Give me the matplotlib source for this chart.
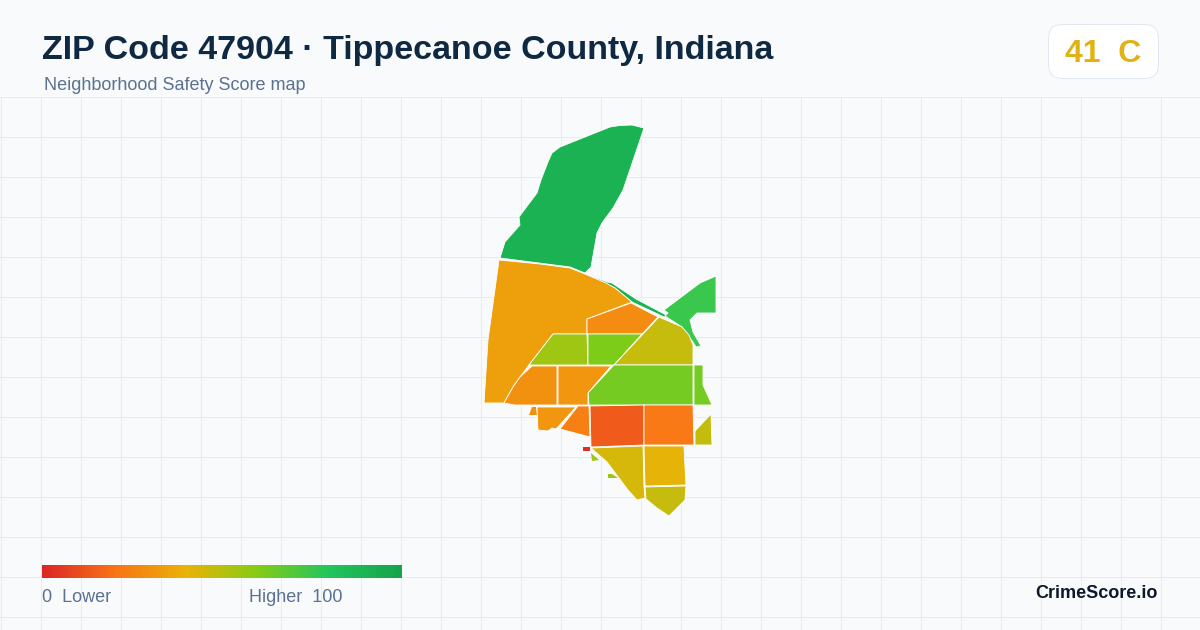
import numpy as np
import matplotlib
matplotlib.use("Agg")
import matplotlib.pyplot as plt
from matplotlib.colors import LinearSegmentedColormap
from matplotlib.patches import FancyBboxPatch, Polygon

plt.rcParams['font.family'] = ['Liberation Sans', 'DejaVu Sans']

title = "ZIP Code 47904 · Tippecanoe County, Indiana"
subtitle = "Neighborhood Safety Score map"
score_label = "41  C"
legend_low = "0  Lower"
legend_high = "Higher  100"
brand = "CrimeScore.io"

# colour scale of the score
scale_stops = [0, 20, 40, 60, 80, 100]
scale_colors = ['#dc2626', '#f97316', '#eab308', '#84cc16', '#22c55e', '#16a34a']

# tract outlines in its own pixel coords
north = [(500, 258), (505, 242), (520, 225), (519, 217), (537, 193), (541, 180), (548, 162), (552, 153), (556, 150),
         (560, 147), (610, 127), (620, 125.5), (632, 125), (644, 128), (623, 190), (613, 208), (602, 223), (597, 233),
         (591, 267), (585, 273), (570, 267)]
strip = [(585, 273), (607, 282), (612, 283), (636, 299), (668, 316), (664, 317), (632, 302), (615, 288)]
northeast = [(664, 310), (700, 283), (716, 276), (716, 313), (697, 313), (690, 320), (693, 332), (701, 346),
             (696, 347), (693, 342), (682, 327), (665, 316), (668, 313)]
west = [(499, 260), (540, 264), (570, 268), (585, 274), (606, 283), (615, 288), (632, 302), (587, 319),
        (587, 334), (553, 334), (529, 365), (520, 377), (513, 387), (504, 403), (484, 403), (488, 340)]
upper_orange = [(587, 319), (631, 303), (658, 317), (642, 334), (587, 334)]
lime_left = [(553, 334), (587, 334), (588, 365), (529, 365)]
lime_right = [(588, 334), (642, 334), (614, 365), (588, 365)]
olive_top = [(659, 317), (682, 327), (689, 335), (693, 345), (693, 365), (614, 365)]
lime_big = [(614, 365), (693, 365), (693, 405), (589, 405), (588, 393)]
lime_east = [(694, 365), (703, 365), (703, 385), (712, 405), (694, 405)]
orange_left = [(532, 366), (557, 366), (557, 405), (515, 405), (504, 403), (513, 387), (520, 377)]
orange_mid = [(558, 366), (611, 366), (588, 393), (588, 405), (558, 405)]
speck_orange = [(529, 415), (532, 407), (536, 407), (537, 415)]
south_west = [(537, 407), (576, 407), (556, 429), (552, 428), (548, 431), (538, 430)]
south_mid = [(578, 406), (589, 406), (590, 437), (560, 429)]
red_orange = [(590, 406), (644, 405), (644, 445), (591, 447)]
orange_east = [(644, 405), (693, 405), (694, 445), (644, 445)]
olive_east = [(695, 431), (711, 414), (712, 445), (695, 445)]
yellow_sw = [(591, 448), (643, 446), (644, 486), (645, 498), (637, 500), (628, 490), (607, 462)]
yellow_se = [(644, 446), (684, 446), (685, 467), (686, 485), (645, 486)]
olive_south = [(645, 487), (686, 486), (685, 500), (669, 516), (657, 508), (646, 499)]
speck_red = [(583, 447), (590, 447), (590, 451), (583, 451)]
speck_lime1 = [(591, 453), (599, 460), (592, 461)]
speck_lime2 = [(608, 474), (612, 474), (618, 478), (608, 478)]

tracts = [north, strip, northeast, west, upper_orange, lime_left, lime_right, olive_top, lime_big, lime_east,
          orange_left, orange_mid, speck_orange, south_west, south_mid, red_orange, orange_east, olive_east,
          yellow_sw, yellow_se, olive_south, speck_red, speck_lime1, speck_lime2]
scores = [91, 91, 75, 34, 28, 55, 61, 47, 63, 63,
          29, 31, 29, 31, 24, 14, 22, 48,
          44, 41, 47, 2, 55, 55]
specks = [speck_orange, speck_red, speck_lime1, speck_lime2]

cmap = LinearSegmentedColormap.from_list(
    'safety', [(s / 100, c) for s, c in zip(scale_stops, scale_colors)])

fig = plt.figure(figsize=(12, 6.3), dpi=100, facecolor='#f8fafc')
ax = fig.add_axes([0, 0, 1, 1])
ax.set_xlim(0, 1200)
ax.set_ylim(630, 0)
ax.axis('off')

# background grid, 1px lines
for x in np.arange(0.5, 1200, 40):
    ax.plot([x, x], [97, 630], color='#e3edf2', lw=0.72, zorder=1)
for y in np.arange(96.5, 630, 40):
    ax.plot([0, 1200], [y, y], color='#e3edf2', lw=0.72, zorder=1)

for shape, score in zip(tracts, scores):
    # the tiny specks have no visible white border
    small = any(shape is s for s in specks)
    ax.add_patch(Polygon(shape, closed=True, facecolor=cmap(score / 100),
                         edgecolor='none' if small else 'white',
                         lw=0 if small else 0.6, joinstyle='round', zorder=2))

ax.text(42, 50.5, title, fontsize=24.45, fontweight='bold', color='#0f2942', va='center', ha='left', zorder=5)
ax.text(44, 86, subtitle, fontsize=12.95, color='#5a7191', va='center', ha='left', zorder=5)

# score badge
ax.add_patch(FancyBboxPatch((1048.5, 24.5), 110, 54, boxstyle='round,pad=0,rounding_size=14',
                            fc='white', ec='#e2e8f0', lw=0.72, zorder=3))
ax.text(1103, 53.5, score_label, fontsize=23, fontweight='bold', color='#e2b214', va='center', ha='center', zorder=5)

# legend gradient
gradient = np.linspace(0, 1, 360).reshape(1, -1)
ax.imshow(gradient, cmap=cmap, vmin=0, vmax=1, extent=(42, 402, 578, 565), aspect='auto', zorder=3)
ax.set_xlim(0, 1200)
ax.set_ylim(630, 0)
ax.text(42, 598, legend_low, fontsize=12.95, color='#5a7191', va='center', ha='left', zorder=5)
ax.text(249, 598, legend_high, fontsize=12.95, color='#5a7191', va='center', ha='left', zorder=5)

ax.text(1158, 594, brand, fontsize=13, fontweight='bold', color='#0f172a', va='center', ha='right', zorder=5)

fig.savefig('out.png', dpi=100, facecolor=fig.get_facecolor())
